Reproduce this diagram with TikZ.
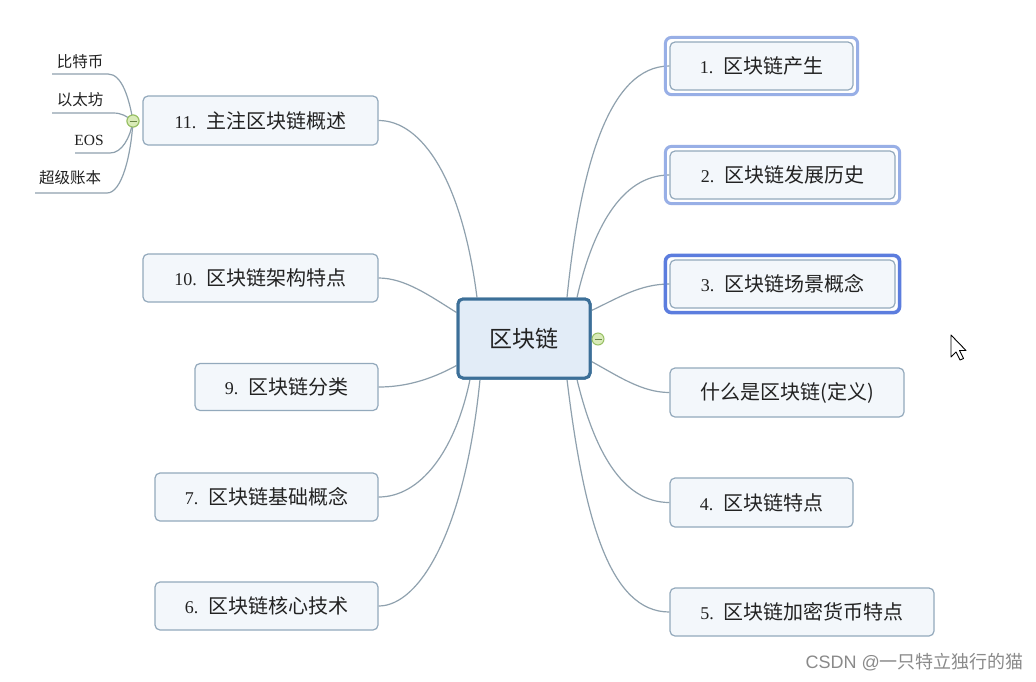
\documentclass[tikz,border=0pt]{standalone}
\usepackage{fontspec}
\setmainfont{Liberation Serif}
\newfontfamily\zhfont{Noto Sans CJK SC}
\newfontfamily\wmfont{Liberation Sans}
\newcommand\zhtext[1]{{\zhfont #1}}
\newcommand\zhbig[1]{{\zhfont\fontsize{20}{22}\selectfont #1}}
\definecolor{nodeborder}{HTML}{93A9BC}
\definecolor{nodefill}{HTML}{F3F7FB}
\definecolor{centerborder}{HTML}{3C6F98}
\definecolor{centerfill}{HTML}{E2ECF7}
\definecolor{linecol}{HTML}{8FA1AE}
\definecolor{selblue}{HTML}{98AFE6}
\definecolor{focusblue}{HTML}{5C7DDE}
\definecolor{collapsefill}{HTML}{D9EBB8}
\definecolor{collapsedraw}{HTML}{98C065}
\definecolor{txt}{HTML}{222222}
\definecolor{wm}{HTML}{8A8A8A}
\begin{document}
\begin{tikzpicture}[x=1pt,y=-1pt,
  topic/.style={draw=nodeborder, line width=1.2pt, fill=nodefill, rounded corners=5pt,
    inner sep=0pt, minimum height=48pt, text=txt, font=\fontsize{18}{20}\selectfont},
  central/.style={draw=centerborder, line width=3pt, fill=centerfill, rounded corners=5pt,
    inner sep=0pt, minimum width=132pt, minimum height=79pt, text=txt,
    font=\fontsize{23}{25}\selectfont},
  leaf/.style={inner sep=0pt, text=txt, font=\fontsize{15.5}{17}\selectfont},
  conn/.style={draw=linecol, line width=1.2pt},
  collapse/.style={circle, draw=collapsedraw, fill=collapsefill, line width=1pt,
    minimum size=12pt, inner sep=0pt},
  selframe/.style={draw=selblue, line width=3pt, rounded corners=6pt},
  focusframe/.style={draw=focusblue, line width=3.5pt, rounded corners=6pt}
]
\useasboundingbox (0,0) rectangle (1036,681);
\fill[white] (0,0) rectangle (1036,681);

\coordinate (pc) at (524,338.5);

\node[central] (c) at (pc) {\phantom{X}};
\node[topic, minimum width=183pt] (n1) at (761.5,66) {1.\hspace{10pt}\zhbig{区块链产生}};
\node[topic, minimum width=225pt] (n2) at (782.5,175) {2.\hspace{10pt}\zhbig{区块链发展历史}};
\node[topic, minimum width=225pt] (n3) at (782.5,284) {3.\hspace{10pt}\zhbig{区块链场景概念}};
\node[topic, minimum width=234pt, minimum height=49pt] (nd) at (787,392.5) {\zhbig{什么是区块链(定义)}};
\node[topic, minimum width=183pt, minimum height=49pt] (n4) at (761.5,502.5) {4.\hspace{10pt}\zhbig{区块链特点}};
\node[topic, minimum width=264pt] (n5) at (802,612) {5.\hspace{10pt}\zhbig{区块链加密货币特点}};
\node[topic, minimum width=235pt, minimum height=49pt] (n11) at (260.5,120.5) {11.\hspace{10pt}\zhbig{主注区块链概述}};
\node[topic, minimum width=235pt] (n10) at (260.5,278) {10.\hspace{10pt}\zhbig{区块链架构特点}};
\node[topic, minimum width=183pt, minimum height=47pt] (n9) at (286.5,387) {9.\hspace{10pt}\zhbig{区块链分类}};
\node[topic, minimum width=223pt] (n7) at (266.5,497) {7.\hspace{10pt}\zhbig{区块链基础概念}};
\node[topic, minimum width=223pt] (n6) at (266.5,606) {6.\hspace{10pt}\zhbig{区块链核心技术}};

% branch connectors
\draw[conn] ([xshift=43pt]c.north) .. controls (580,170) and (608,66) .. (n1.west);
\draw[conn] ([xshift=53pt]c.north) .. controls (592,232) and (620,175) .. (n2.west);
\draw[conn] ([yshift=28pt]c.east) .. controls (618,298) and (640,284) .. (n3.west);
\draw[conn] ([yshift=-23pt]c.east) .. controls (618,376) and (642,392.5) .. (nd.west);
\draw[conn] ([xshift=53pt]c.south) .. controls (594,450) and (622,502.5) .. (n4.west);
\draw[conn] ([xshift=43pt]c.south) .. controls (584,520) and (610,612) .. (n5.west);
\draw[conn] ([xshift=-47pt]c.north) .. controls (462,180) and (422,120.5) .. (n11.east);
\draw[conn] ([yshift=26pt]c.west) .. controls (430,296) and (405,278) .. (n10.east);
\draw[conn] ([yshift=-27pt]c.west) .. controls (430,380) and (405,387) .. (n9.east);
\draw[conn] ([xshift=-54pt]c.south) .. controls (455,452) and (420,497) .. (n7.east);
\draw[conn] ([xshift=-44pt]c.south) .. controls (465,530) and (420,606) .. (n6.east);

\node[central] at (pc) {\zhtext{区块链}};
\node[collapse] (cc) at (598,339) {};
\draw[collapsedraw!70!black, line width=1pt] ([xshift=-3.5pt]cc.center) -- ([xshift=3.5pt]cc.center);

\draw[selframe] ([shift={(-4,-4)}]n1.north west) rectangle ([shift={(4,4)}]n1.south east);
\draw[selframe] ([shift={(-4,-4)}]n2.north west) rectangle ([shift={(4,4)}]n2.south east);
\draw[focusframe] ([shift={(-4,-4)}]n3.north west) rectangle ([shift={(4,4)}]n3.south east);

% leaves of node 11
\node[leaf] (l1) at (80,62) {\zhtext{比特币}};
\node[leaf] (l2) at (80,100) {\zhtext{以太坊}};
\node[leaf] (l3) at (89,140) {EOS};
\node[leaf] (l4) at (70,178) {\zhtext{超级账本}};
\coordinate (u1a) at (52,74);  \coordinate (u1b) at (108,74);
\coordinate (u2a) at (52,113); \coordinate (u2b) at (113,113);
\coordinate (u3a) at (75,153); \coordinate (u3b) at (110,153);
\coordinate (u4a) at (35,193); \coordinate (u4b) at (107,193);
\node[collapse] (c11) at (133,121) {};
\draw[conn] (c11.center) .. controls (129,98) and (122,74) .. (u1b) -- (u1a);
\draw[conn] (c11.center) .. controls (126,116) and (122,113) .. (u2b) -- (u2a);
\draw[conn] (c11.center) .. controls (130,138) and (122,153) .. (u3b) -- (u3a);
\draw[conn] (c11.center) .. controls (131,155) and (122,193) .. (u4b) -- (u4a);
\node[collapse] at (c11) {};
\draw[collapsedraw!70!black, line width=1pt] ([xshift=-3.5pt]c11.center) -- ([xshift=3.5pt]c11.center);

% mouse cursor
\draw[black, line width=0.9pt, fill=white, line join=round]
  (951,335) -- (951,357) -- (956,352) -- (960,360) -- (963.5,358.5) -- (959.5,350.5) -- (966,350.5) -- cycle;

% watermark
\node[anchor=east, inner sep=0pt, text=wm, font=\fontsize{18}{20}\selectfont] (wmk) at (1024,662)
  {{\wmfont CSDN @}\zhtext{一只特立独行的猫}};
\end{tikzpicture}
\end{document}
